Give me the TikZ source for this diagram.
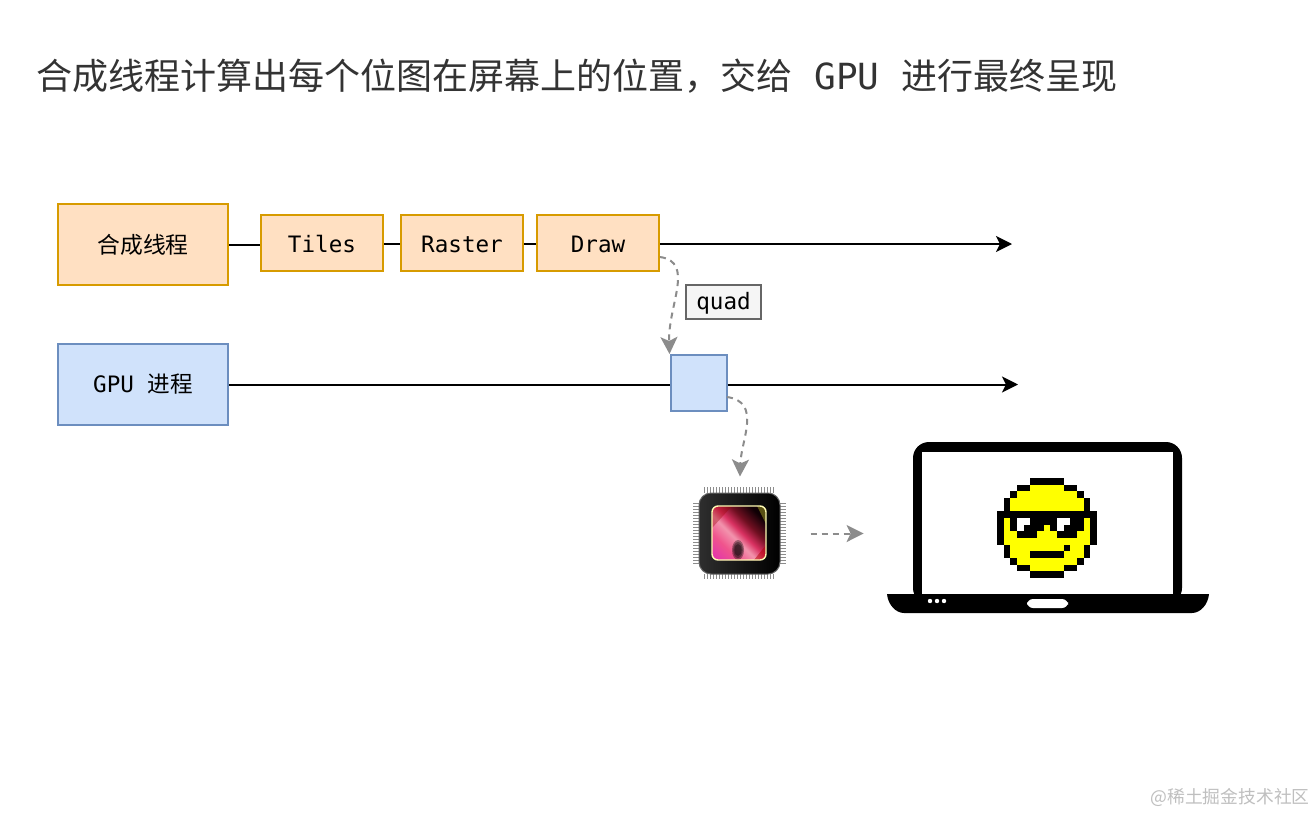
\documentclass[tikz,border=0pt]{standalone}
\usepackage{fontspec}
\setmainfont{DejaVu Sans Mono}
\newfontfamily\cjkfont{Noto Sans CJK SC}
\definecolor{myorange}{HTML}{FFE0C2}
\definecolor{myorangeline}{HTML}{D79B00}
\definecolor{myblue}{HTML}{D0E2FB}
\definecolor{myblueline}{HTML}{6C8EBF}
\definecolor{mygray}{HTML}{8C8C8C}
\definecolor{myyellow}{HTML}{FFFF00}
\usetikzlibrary{arrows.meta, calc}
\pgfdeclarehorizontalshading{chipglow}{100bp}{
	rgb(0bp)=(0.88,0.19,0.69);
	rgb(15bp)=(0.88,0.19,0.69);
	rgb(32bp)=(0.94,0.33,0.55);
	rgb(44bp)=(0.95,0.58,0.68);
	rgb(52bp)=(0.85,0.19,0.38);
	rgb(62bp)=(0.44,0.06,0.13);
	rgb(75bp)=(0.06,0,0.02);
	rgb(100bp)=(0.06,0,0.02)
}
\tikzset{
	defaultnode/.style={
			rectangle,
			draw=black,
			line width=1pt,
			inner sep=0pt,
			font=\fontsize{11.3}{13}\selectfont
		},
	threadnode/.style={
			defaultnode,
			draw=myorangeline,
			fill=myorange,
			minimum width=85pt,
			minimum height=40.5pt
		},
	gpunode/.style={
			threadnode,
			draw=myblueline,
			fill=myblue
		},
	tasknode/.style={
			threadnode,
			minimum width=61pt,
			minimum height=28pt,
			text height=9.8pt,
			text depth=0pt
		},
	quadnode/.style={
			gpunode,
			minimum width=28pt,
			minimum height=28pt
		},
	tagnode/.style={
			defaultnode,
			draw=black!60,
			fill=black!4,
			minimum width=37.5pt,
			minimum height=17pt,
			text height=9.5pt,
			text depth=2.2pt
		},
	timeline/.style={
			line width=1pt,
			-{Stealth[length=8pt,width=8pt,inset=2pt]}
		},
	link/.style={
			line width=1pt
		},
	handoff/.style={
			line width=1pt,
			mygray,
			dash pattern=on 3pt off 2.5pt,
			-{Stealth[length=8.5pt,width=8.5pt,inset=2pt]}
		},
	pin/.style={
			line width=0.4pt,
			black!45
		}
}
\begin{document}
\begin{tikzpicture}[x=0.5pt, y=-0.5pt]
\fill[white] (0,0) rectangle (1316,814);

\node[anchor=west, inner sep=0pt, text=black!80, font=\fontsize{18}{20}\selectfont] (title) at (36.5,76)
	{{\cjkfont 合成线程计算出每个位图在屏幕上的位置，交给} GPU {\cjkfont 进行最终呈现}};

% the two timelines
\coordinate (compositorend) at (1012,244);
\coordinate (gpuend) at (1018,384.5);
\node[threadnode, font=\fontsize{11.4}{13}\selectfont] (compositor) at (143,244.5) {\cjkfont 合成线程};
\node[tasknode] (tiles) at (322,243) {Tiles};
\node[tasknode] (raster) at (462,243) {Raster};
\node[tasknode] (drawtask) at (598,243) {Draw};

\node[gpunode] (gpu) at (143,384.5) {GPU {\cjkfont 进程}};
\node[quadnode] (gpuquad) at (698.5,383) {};

\draw[link] (compositor.east) -- (compositor.east -| tiles.west);
\draw[link] (tiles.east |- compositorend) -- (raster.west |- compositorend);
\draw[link] (raster.east |- compositorend) -- (drawtask.west |- compositorend);
\draw[timeline] (drawtask.east |- compositorend) -- (compositorend);
\draw[link] (gpu.east) -- (gpu.east -| gpuquad.west);
\draw[timeline] (gpuquad.east |- gpuend) -- (gpuend);

\node[tagnode] (quad) at (723.5,302) {quad};

% the chip
\foreach \i in {0,...,23} {
	\draw[pin] (704+3*\i,487) -- (704+3*\i,493);
	\draw[pin] (704+3*\i,574) -- (704+3*\i,579);
}
\foreach \i in {0,...,20} {
	\draw[pin] (693,503+3*\i) -- (699,503+3*\i);
	\draw[pin] (780,503+3*\i) -- (786,503+3*\i);
}
\node[rectangle, rounded corners=6pt, draw=black!60, line width=0.5pt, minimum width=40.5pt, minimum height=40.5pt,
	inner sep=0pt, left color=black!82, right color=black] (chip) at (739.5,533.5) {};
\begin{scope}
\clip[rounded corners=3pt] (712,506) rectangle (766,560);
\shade[shading=chipglow, shading angle=45] (712,506) rectangle (766,560);
\fill[red!60!black, opacity=0.35] (712,506) -- (732,506) -- (712,528) -- cycle;
\fill[olive!80!black, opacity=0.7] (757,506) -- (766,506) -- (766,524) -- cycle;
\fill[red!70!black, opacity=0.5] (754,560) -- (766,545) -- (766,560) -- cycle;
\foreach \s in {1,0.8,0.6} {
	\fill[black, opacity=0.35] (738,550) ellipse [x radius=6*\s, y radius=10*\s];
}
\end{scope}
\draw[yellow!30!white, line width=0.7pt, rounded corners=3pt] (712,506) rectangle (766,560);

% the laptop
\node[rectangle, rounded corners=8pt, fill=black, minimum width=134.5pt, minimum height=81pt, inner sep=0pt] (laptop) at (1047.5,523) {};
\node[rectangle, fill=white, minimum width=125.5pt, minimum height=71pt, inner sep=0pt] (screen) at (1047.5,523) {};
\fill[black] (887,594) -- (1209,594) .. controls (1208,605) and (1200,613) .. (1192,613) -- (904,613) .. controls (896,613) and (888,605) .. cycle;
\fill[white, rounded corners=3pt] (1027,599) rectangle (1068,608);
\foreach \x in {930,937,944} {
	\fill[white] (\x,601) circle [radius=2.2];
}

% the pixel face, one run of cells per row
\begin{scope}[shift={(997,478)}, x=3.335pt, y=-3.335pt]
\foreach \r/\a/\b/\c in {
	1/5/9/myyellow, 2/3/11/myyellow, 3/2/12/myyellow, 4/2/12/myyellow,
	6/1/13/myyellow, 7/1/13/myyellow, 8/1/13/myyellow, 9/1/13/myyellow,
	10/2/12/myyellow, 11/2/12/myyellow, 12/3/11/myyellow, 13/5/9/myyellow,
	0/5/9/black, 1/3/4/black, 1/10/11/black, 2/2/2/black, 2/12/12/black,
	3/1/1/black, 3/13/13/black, 4/1/1/black, 4/13/13/black, 5/0/14/black,
	6/0/0/black, 6/14/14/black, 6/2/12/black, 6/3/4/white, 6/9/10/white,
	7/0/0/black, 7/14/14/black, 7/2/6/black, 7/8/12/black, 7/3/3/white, 7/9/9/white,
	8/0/0/black, 8/14/14/black, 8/3/5/black, 8/9/11/black,
	9/0/0/black, 9/14/14/black, 10/1/1/black, 10/13/13/black, 10/10/10/black,
	11/1/1/black, 11/13/13/black, 11/5/9/black,
	12/2/2/black, 12/12/12/black, 13/3/4/black, 13/10/11/black, 14/5/9/black} {
	\fill[\c] (\a,\r) rectangle (\b+1,\r+1);
}
\end{scope}

% hand-over arrows
\coordinate (drawout) at (660,257);
\coordinate (quadout) at (727,397);
\draw[handoff] (drawout) .. controls (695,262) and (668,305) .. (gpuquad.north west);
\draw[handoff, shorten >=8pt] (quadout) .. controls (762,402) and (741,440) .. (chip.north);
\draw[handoff, shorten <=15pt, shorten >=24.5pt] (chip.east) -- (chip.east -| laptop.west);

\node[anchor=east, inner sep=0pt, text=black!25, font=\fontsize{8.9}{10}\selectfont] (watermark) at (1310,797)
	{\cjkfont @稀土掘金技术社区};
\end{tikzpicture}
\end{document}
